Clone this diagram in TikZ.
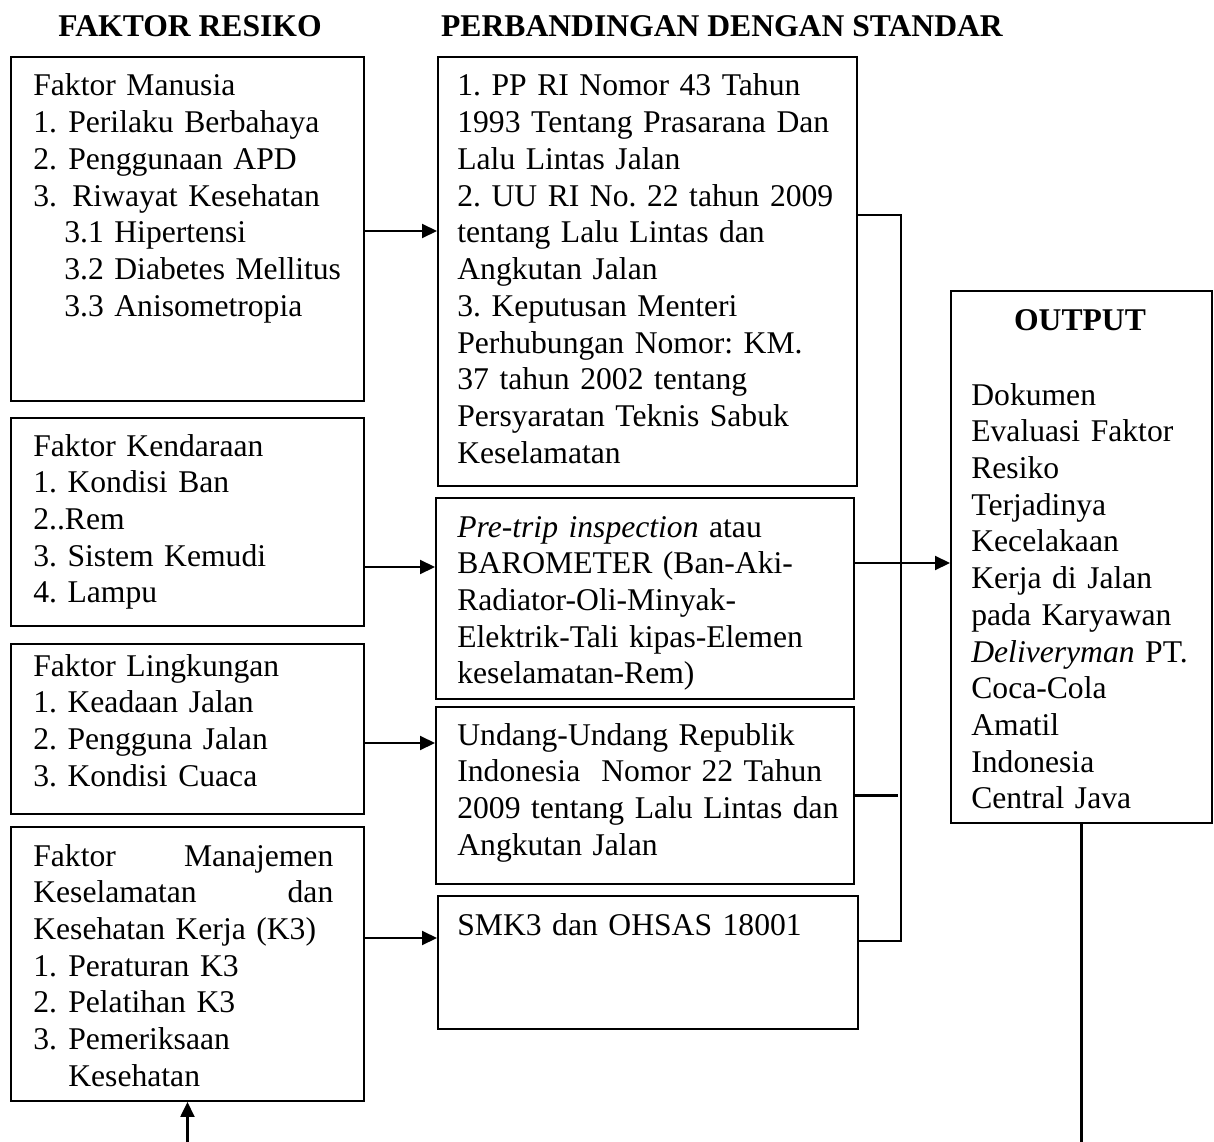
\documentclass[tikz,border=0pt]{standalone}
\usepackage{fontspec}
\setmainfont{Liberation Serif}
\usetikzlibrary{arrows.meta}
\newcommand{\isifont}{\fontsize{18}{20.9}\selectfont\frenchspacing}
\tikzset{%
  >={Triangle[width=2.8mm,length=3mm]},
  % Specifications for style of nodes:
   kotak/.style 2 args = {rectangle, draw=black, line width=1.1pt,
                          anchor=north west, inner sep=0pt,
                          minimum width=#1*0.02cm, minimum height=#2*0.02cm},
           isi/.style = {anchor=base west, align=left, inner sep=0pt,
                         font=\isifont},
         judul/.style = {anchor=base, inner sep=0pt, font=\isifont\bfseries},
         garis/.style = {line width=1.2pt},
}

\begin{document}
\begin{tikzpicture}[x=0.02cm, y=-0.02cm]
  \useasboundingbox (0,0) rectangle (1214,1142);
  % Judul kolom
  \node (jKiri)   [judul] at (190,37) {FAKTOR RESIKO};
  \node (jTengah) [judul] at (722,37) {PERBANDINGAN DENGAN STANDAR};
  % Kotak (position, size)
  \node (manusia)    [kotak={353}{344}] at (10,56)  {};
  \node (kendaraan)  [kotak={353}{208}] at (10,417) {};
  \node (lingkungan) [kotak={353}{170}] at (10,643) {};
  \node (k3)         [kotak={353}{274}] at (10,826) {};
  \node (std1)       [kotak={419}{429}] at (437,56)  {};
  \node (std2)       [kotak={418}{201}] at (435,497) {};
  \node (std3)       [kotak={418}{177}] at (435,706) {};
  \node (std4)       [kotak={420}{133}] at (437,895) {};
  \node (output)     [kotak={261}{532}] at (950,290) {};
  % Isi kotak
  \node (tManusia) [isi, text width=6.6cm] at (33,96) {Faktor Manusia\\
    \makebox[0.7cm][l]{1.}Perilaku Berbahaya\\
    \makebox[0.7cm][l]{2.}Penggunaan APD\\
    \makebox[0.78cm][l]{3.}Riwayat Kesehatan\\
    \hspace*{0.62cm}3.1 Hipertensi\\
    \hspace*{0.62cm}3.2 Diabetes Mellitus\\
    \hspace*{0.62cm}3.3 Anisometropia};
  \node (tKendaraan) [isi, text width=6.6cm] at (33,456) {Faktor Kendaraan\\
    1. Kondisi Ban\\ 2..Rem\\ 3. Sistem Kemudi\\ 4. Lampu};
  \node (tLingkungan) [isi, text width=6.6cm] at (33,676) {Faktor Lingkungan\\
    1. Keadaan Jalan\\ 2. Pengguna Jalan\\ 3. Kondisi Cuaca};
  \node (tK3) [isi, text width=6cm] at (33,866) {Faktor\hfill Manajemen\\
    Keselamatan\hfill dan\\ Kesehatan Kerja (K3)\\
    \makebox[0.7cm][l]{1.}Peraturan K3\\
    \makebox[0.7cm][l]{2.}Pelatihan K3\\
    \makebox[0.7cm][l]{3.}Pemeriksaan\\
    \hspace*{0.7cm}Kesehatan};
  \node (tStd1) [isi, text width=7.8cm] at (457,96) {1. PP RI Nomor 43 Tahun\\
    1993 Tentang Prasarana Dan\\ Lalu Lintas Jalan\\
    2. UU RI No. 22 tahun 2009\\ tentang Lalu Lintas dan\\ Angkutan Jalan\\
    3. Keputusan Menteri\\ Perhubungan Nomor: KM.\\ 37 tahun 2002 tentang\\
    Persyaratan Teknis Sabuk\\ Keselamatan};
  \node (tStd2) [isi, text width=7.8cm] at (457,537) {\textit{Pre-trip inspection} atau\\
    BAROMETER (Ban-Aki-\\ Radiator-Oli-Minyak-\\ Elektrik-Tali kipas-Elemen\\
    keselamatan-Rem)};
  \node (tStd3) [isi, text width=7.8cm] at (457,745) {Undang-Undang Republik\\
    Indonesia\ \ Nomor 22 Tahun\\ 2009 tentang Lalu Lintas dan\\ Angkutan Jalan};
  \node (tStd4) [isi, text width=7.8cm] at (457,935) {SMK3 dan OHSAS 18001};
  \node (tOutJudul) [judul] at (1080,331) {OUTPUT};
  \node (tOutput) [isi, text width=4.6cm] at (971,405) {Dokumen\\ Evaluasi Faktor\\
    Resiko\\ Terjadinya\\ Kecelakaan\\ Kerja di Jalan\\ pada Karyawan\\
    \textit{Deliveryman} PT.\\ Coca-Cola\\ Amatil\\ Indonesia\\ Central Java};
  % Tinggi garis penghubung
  \coordinate (h1)    at (0,231);
  \coordinate (h2)    at (0,567);
  \coordinate (h3)    at (0,743);
  \coordinate (h4)    at (0,938);
  \coordinate (hOut)  at (0,563);
  \coordinate (b1)    at (901,215);
  \coordinate (b4)    at (901,941);
  \coordinate (bawah) at (0,1142);
  \draw[garis,->] (manusia.east |- h1)    -- (std1.west |- h1);
  \draw[garis,->] (kendaraan.east |- h2)  -- (std2.west |- h2);
  \draw[garis,->] (lingkungan.east |- h3) -- (std3.west |- h3);
  \draw[garis,->] (k3.east |- h4)         -- (std4.west |- h4);
  \draw[garis] (std1.east |- b1) -- (b1) -- (b4) -- (std4.east |- b4);
  \draw[garis] (std3.east) -- ([xshift=-0.06cm]std3.east -| b1);
  \draw[garis,->] (std2.east |- hOut) -- (output.west |- hOut);
  \draw[garis,->] (k3.south |- bawah) -- (k3.south);
  \draw[garis] (output.south) -- (output.south |- bawah);
\end{tikzpicture}
\end{document}
